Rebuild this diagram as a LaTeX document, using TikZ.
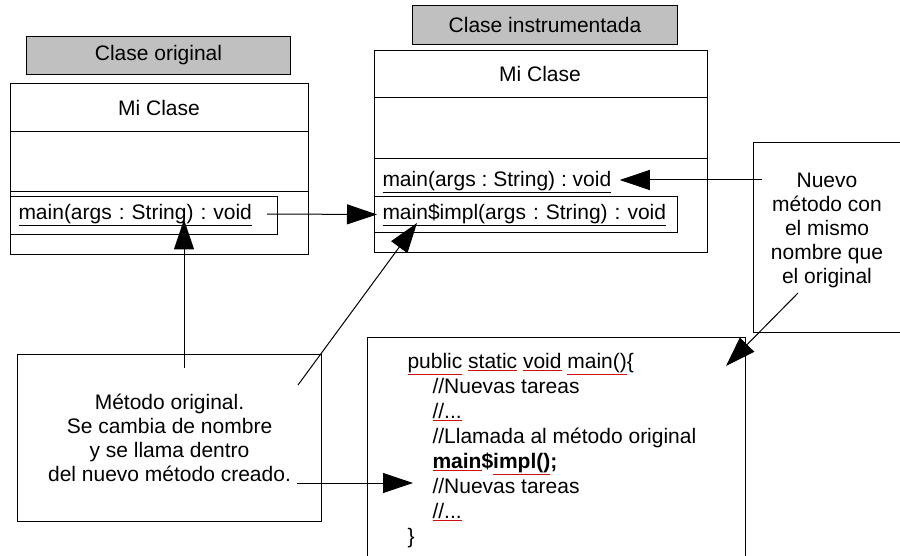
\documentclass[tikz,border=0pt]{standalone}
\usepackage{fontspec}
\setmainfont{Liberation Sans}
\usetikzlibrary{positioning, arrows.meta}
\definecolor{tituloGris}{HTML}{C0C0C0}
\definecolor{corrector}{HTML}{D01010}
\newcommand{\corr}[1]{{\color{corrector}\underline{\color{black}#1}}}

\begin{document}
\frenchspacing
\begin{tikzpicture}[x=1pt, y=-1pt, font=\fontsize{21}{24}\selectfont, line width=1pt,
    caja/.style={draw, rectangle, inner sep=0pt, anchor=north west},
    titulo/.style={caja, fill=tituloGris},
    metodo/.style={caja, align=left, inner xsep=8pt, text width=#1},
    flecha/.style={-{Triangle[length=30pt, width=20pt]}}]
  \useasboundingbox (0,0) rectangle (900,556);

  \node[titulo, minimum width=264pt, minimum height=38pt] (tOrig) at (26,36) {Clase original};
  \node[caja, minimum width=298pt, minimum height=171pt] (orig) at (10,83) {};
  \node (nOrig) at (159,108) {Mi Clase};
  \draw ([yshift=-49pt]orig.north west) -- ([yshift=-49pt]orig.north east);
  \draw ([yshift=-109pt]orig.north west) -- ([yshift=-109pt]orig.north east);
  \node[metodo=251pt, minimum height=38pt] (mOrig) at (10,196) {\underline{main(args : String) : void}};

  \node[titulo, minimum width=265pt, minimum height=39pt] (tInst) at (412,5) {Clase instrumentada};
  \node[caja, minimum width=333pt, minimum height=202pt] (inst) at (374,50) {};
  \node (nInst) at (540,74) {Mi Clase};
  \draw ([yshift=-48pt]inst.north west) -- ([yshift=-48pt]inst.north east);
  \draw ([yshift=-109pt]inst.north west) -- ([yshift=-109pt]inst.north east);
  \node[anchor=west, inner xsep=8pt, inner ysep=0pt] (mMain) at (374,182) {\underline{main(args : String) : void}};
  \node[metodo=287pt, minimum height=36pt] (mImpl) at (374,196) {\underline{main\$impl(args : String) : void}};

  \node[caja, minimum width=152pt, minimum height=190pt] (nuevo) at (753,142) {};
  \node[align=center] (tNuevo) at (827,230) {Nuevo\\método con\\el mismo\\nombre que\\el original};

  \node[caja, minimum width=304pt, minimum height=167pt, align=center] (explica) at (17,354)
    {Método original.\\Se cambia de nombre\\y se llama dentro\\del nuevo método creado.};

  \node[caja, minimum width=378pt, minimum height=230pt] (codigo) at (367,337) {};
  \node[anchor=north west, inner sep=0pt, align=left, font=\fontsize{21}{25}\selectfont] (texto) at (407,353)
    {\corr{public} \corr{static} \corr{void} \corr{main()}\{\\
     \hspace*{25pt}//Nuevas tareas\\
     \hspace*{25pt}\corr{//...}\\
     \hspace*{25pt}//Llamada al método original\\
     \hspace*{25pt}\textbf{\corr{main}\$\corr{impl()};}\\
     \hspace*{25pt}//Nuevas tareas\\
     \hspace*{25pt}\corr{//...}\\
     \}};

  \coordinate (c1) at (267,214);
  \coordinate (c2) at (184,368);
  \coordinate (c3) at (298,385);
  \coordinate (c4) at (762,180);
  \coordinate (c5) at (798,293);
  \coordinate (c6) at (297,483);
  \draw[flecha] (c1) -- ([xshift=3pt]mImpl.west);
  \draw[flecha] (c2) -- ([yshift=-4pt]c2 |- mOrig.center);
  \draw[flecha] (c3) -- ([xshift=43pt,yshift=10pt]mImpl.south west);
  \draw[flecha] (c4) -- (c4 -| mMain.east);
  \draw[flecha] (c5) -- ([xshift=-20pt,yshift=-29pt]codigo.north east);
  \draw[flecha] (c6) -- ([xshift=46pt]c6 -| codigo.west);
\end{tikzpicture}
\end{document}
